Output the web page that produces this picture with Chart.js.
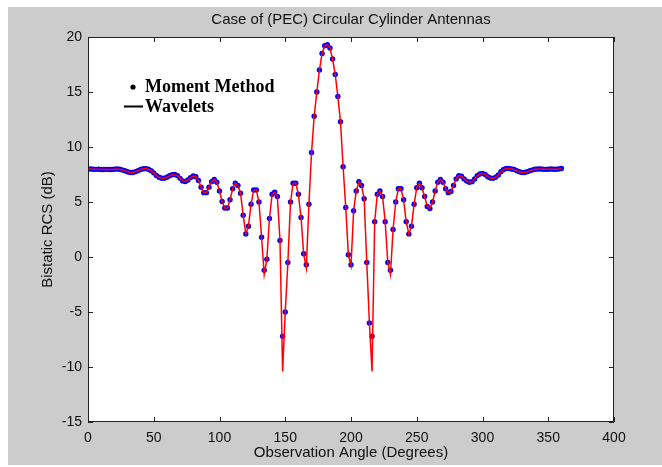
<!DOCTYPE html>
<html>
<head>
<meta charset="utf-8">
<title>Case of (PEC) Circular Cylinder Antennas</title>
<script src="https://cdn.jsdelivr.net/npm/chart.js"></script>
<style>
  html, body { margin: 0; padding: 0; background: #ffffff; }
  canvas { display: block; }
</style>
</head>
<body>
<canvas id="grafico" width="662" height="467"></canvas>
<script>
// observation angle (degrees)
var angulos = [
  0, 2, 4, 6, 8, 10, 12, 14, 16, 18,
  20, 22, 24, 26, 28, 30, 32, 34, 36, 38,
  40, 42, 44, 46, 48, 50, 52, 54, 56, 58,
  60, 62, 64, 66, 68, 70, 72, 74, 76, 78,
  80, 82, 84, 86, 88, 90, 92, 94, 96, 98,
  100, 102, 104, 106, 108, 110, 112, 114, 116, 118,
  120, 122, 124, 126, 128, 130, 132, 134, 136, 138,
  140, 142, 144, 146, 148, 150, 152, 154, 156, 158,
  160, 162, 164, 166, 168, 170, 172, 174, 176, 178,
  180, 182, 184, 186, 188, 190, 192, 194, 196, 198,
  200, 202, 204, 206, 208, 210, 212, 214, 216, 218,
  220, 222, 224, 226, 228, 230, 232, 234, 236, 238,
  240, 242, 244, 246, 248, 250, 252, 254, 256, 258,
  260, 262, 264, 266, 268, 270, 272, 274, 276, 278,
  280, 282, 284, 286, 288, 290, 292, 294, 296, 298,
  300, 302, 304, 306, 308, 310, 312, 314, 316, 318,
  320, 322, 324, 326, 328, 330, 332, 334, 336, 338,
  340, 342, 344, 346, 348, 350, 352, 354, 356, 358,
  360
];

// Wavelets (red line), bistatic RCS in dB
var wavelets = [
  8.00, 8.00, 7.98, 7.97, 7.98, 7.96, 7.95, 7.97, 7.96, 7.95,
  7.98, 8.00, 7.98, 7.92, 7.85, 7.75, 7.68, 7.68, 7.75, 7.85,
  7.95, 8.02, 8.03, 7.98, 7.85, 7.65, 7.42, 7.25, 7.16, 7.16,
  7.25, 7.38, 7.48, 7.50, 7.40, 7.15, 6.92, 6.86, 7.00, 7.22,
  7.36, 7.30, 6.95, 6.35, 5.85, 5.85, 6.35, 6.85, 7.06, 6.80,
  6.00, 5.05, 4.45, 4.45, 5.20, 6.20, 6.70, 6.50, 5.80, 3.80,
  2.10, 2.80, 4.80, 6.10, 6.10, 5.00, 1.80, -1.60, -0.20, 3.50,
  5.70, 5.90, 5.50, 1.50, -10.40, -5.00, -0.50, 5.00, 6.70, 6.70,
  5.70, 3.60, 0.30, -1.00, 4.80, 9.50, 12.80, 15.00, 17.00, 18.50,
  19.20, 19.30, 19.00, 18.00, 16.60, 14.60, 12.30, 8.20, 4.50, 0.20,
  -0.80, 4.20, 6.00, 6.85, 6.50, 5.30, -0.50, -6.00, -10.40, 3.20,
  5.70, 6.00, 5.50, 3.20, -0.50, -1.60, 2.50, 5.00, 6.20, 6.20,
  5.20, 3.20, 2.10, 2.80, 4.80, 6.30, 6.70, 6.30, 5.50, 4.60,
  4.40, 5.00, 6.00, 6.80, 7.06, 6.80, 6.20, 5.85, 5.95, 6.50,
  7.10, 7.40, 7.35, 7.10, 6.90, 6.80, 6.85, 7.10, 7.40, 7.55,
  7.60, 7.50, 7.30, 7.18, 7.15, 7.25, 7.45, 7.75, 7.95, 8.05,
  8.05, 8.00, 7.95, 7.85, 7.75, 7.68, 7.68, 7.75, 7.85, 7.92,
  7.98, 8.00, 8.00, 7.98, 7.97, 7.98, 8.00, 7.98, 7.98, 8.00,
  8.05
];

// Moment Method (blue dots)
var momento = [
  8.00, 8.00, 7.98, 7.97, 7.98, 7.96, 7.95, 7.97, 7.96, 7.95,
  7.98, 8.00, 7.98, 7.92, 7.85, 7.75, 7.68, 7.68, 7.75, 7.85,
  7.95, 8.02, 8.03, 7.98, 7.85, 7.65, 7.42, 7.25, 7.16, 7.16,
  7.25, 7.38, 7.48, 7.50, 7.40, 7.15, 6.92, 6.86, 7.00, 7.22,
  7.36, 7.30, 6.95, 6.35, 5.85, 5.85, 6.35, 6.85, 7.06, 6.80,
  6.00, 5.05, 4.45, 4.45, 5.20, 6.20, 6.70, 6.50, 5.80, 3.80,
  2.10, 2.80, 4.80, 6.10, 6.10, 5.00, 1.80, -1.20, -0.20, 3.50,
  5.70, 5.90, 5.50, 1.50, -7.20, -5.00, -0.50, 5.00, 6.70, 6.70,
  5.70, 3.60, 0.30, -0.70, 4.80, 9.50, 12.80, 15.00, 17.00, 18.50,
  19.20, 19.30, 19.00, 18.00, 16.60, 14.60, 12.30, 8.20, 4.50, 0.20,
  -0.70, 4.20, 6.00, 6.85, 6.50, 5.30, -0.50, -6.00, -7.20, 3.20,
  5.70, 6.00, 5.50, 3.20, -0.50, -1.20, 2.50, 5.00, 6.20, 6.20,
  5.20, 3.20, 2.10, 2.80, 4.80, 6.30, 6.70, 6.30, 5.50, 4.60,
  4.40, 5.00, 6.00, 6.80, 7.06, 6.80, 6.20, 5.85, 5.95, 6.50,
  7.10, 7.40, 7.35, 7.10, 6.90, 6.80, 6.85, 7.10, 7.40, 7.55,
  7.60, 7.50, 7.30, 7.18, 7.15, 7.25, 7.45, 7.75, 7.95, 8.05,
  8.05, 8.00, 7.95, 7.85, 7.75, 7.68, 7.68, 7.75, 7.85, 7.92,
  7.98, 8.00, 8.00, 7.98, 7.97, 7.98, 8.00, 7.98, 7.98, 8.00,
  8.05
];

var ticksX = [0, 50, 100, 150, 200, 250, 300, 350, 400];
var ticksY = [-15, -10, -5, 0, 5, 10, 15, 20];

var titulo = 'Case of (PEC) Circular Cylinder Antennas';
var tituloX = 'Observation Angle (Degrees)';
var tituloY = 'Bistatic RCS (dB)';
var leyenda = ['Moment Method', 'Wavelets'];

window.onload = inicializar;

function inicializar() {
  var puntosLinea = [];
  var puntosMomento = [];
  for (var i = 0; i < angulos.length; i++) {
    puntosLinea.push({ x: angulos[i], y: wavelets[i] });
    puntosMomento.push({ x: angulos[i], y: momento[i] });
  }

  var fuente = '"Liberation Sans", Arial, sans-serif';

  var estiloMatlab = {
    id: 'estiloMatlab',
    beforeDraw: function (chart) {
      var ctx = chart.ctx;
      var a = chart.chartArea;
      ctx.save();
      ctx.fillStyle = '#ffffff';
      ctx.fillRect(0, 0, chart.width, chart.height);
      ctx.fillStyle = '#cccccc';
      ctx.fillRect(8, 7, chart.width - 8, chart.height - 9);
      ctx.fillStyle = '#ffffff';
      ctx.fillRect(a.left, a.top, a.right - a.left, a.bottom - a.top);
      ctx.restore();
    },
    afterDraw: function (chart) {
      var ctx = chart.ctx;
      var a = chart.chartArea;
      var sx = chart.scales.x;
      var sy = chart.scales.y;
      ctx.save();

      // caja y marcas hacia dentro
      ctx.strokeStyle = '#222222';
      ctx.lineWidth = 1;
      ctx.strokeRect(a.left + 0.5, a.top + 0.5, a.right - a.left - 1, a.bottom - a.top - 1);
      ctx.beginPath();
      ticksX.forEach(function (v) {
        var px = Math.round(sx.getPixelForValue(v)) + 0.5;
        ctx.moveTo(px, a.bottom);
        ctx.lineTo(px, a.bottom - 5);
        ctx.moveTo(px, a.top);
        ctx.lineTo(px, a.top + 5);
      });
      ticksY.forEach(function (v) {
        var py = Math.round(sy.getPixelForValue(v)) + 0.5;
        ctx.moveTo(a.left, py);
        ctx.lineTo(a.left + 5, py);
        ctx.moveTo(a.right, py);
        ctx.lineTo(a.right - 5, py);
      });
      ctx.stroke();

      // titulos
      var cx = (a.left + a.right) / 2;
      var cy = (a.top + a.bottom) / 2;
      ctx.fillStyle = '#111111';
      ctx.font = '15px ' + fuente;
      ctx.textAlign = 'center';
      ctx.textBaseline = 'middle';
      ctx.fillText(titulo, cx, 20);
      ctx.fillText(tituloX, cx, 453);
      ctx.translate(48, cy);
      ctx.rotate(-Math.PI / 2);
      ctx.fillText(tituloY, 0, 0);
      ctx.setTransform(1, 0, 0, 1, 0, 0);

      // leyenda
      ctx.fillStyle = '#000000';
      ctx.strokeStyle = '#000000';
      ctx.font = 'bold 18px "Liberation Serif", "Times New Roman", serif';
      ctx.textAlign = 'left';
      ctx.textBaseline = 'alphabetic';
      ctx.beginPath();
      ctx.arc(133, 87, 2.6, 0, Math.PI * 2);
      ctx.fill();
      ctx.fillText(leyenda[0], 145, 92);
      ctx.lineWidth = 2;
      ctx.beginPath();
      ctx.moveTo(124, 106.5);
      ctx.lineTo(143, 106.5);
      ctx.stroke();
      ctx.fillText(leyenda[1], 145, 112);
      ctx.restore();
    }
  };

  new Chart(document.getElementById('grafico'), {
    type: 'scatter',
    data: {
      datasets: [
        {
          label: leyenda[1],
          data: puntosLinea,
          showLine: true,
          borderColor: '#ff0000',
          borderWidth: 1.5,
          pointRadius: 0,
          tension: 0
        },
        {
          label: leyenda[0],
          data: puntosMomento,
          showLine: false,
          pointRadius: 2.7,
          pointBorderWidth: 0,
          backgroundColor: '#0000ff',
          borderColor: '#0000ff'
        }
      ]
    },
    options: {
      responsive: false,
      animation: false,
      devicePixelRatio: 1,
      layout: { padding: { left: 0, right: 48, top: 37, bottom: 0 } },
      plugins: {
        legend: { display: false },
        tooltip: { enabled: false },
        title: { display: false }
      },
      scales: {
        x: {
          type: 'linear',
          min: 0,
          max: 400,
          afterFit: function (scale) { scale.height = 45; },
          afterBuildTicks: function (scale) {
            scale.ticks = ticksX.map(function (v) { return { value: v }; });
          },
          grid: { display: false, drawTicks: false },
          border: { display: false },
          ticks: { color: '#111111', font: { size: 14, family: fuente }, padding: 8, maxRotation: 0 }
        },
        y: {
          type: 'linear',
          min: -15,
          max: 20,
          afterFit: function (scale) { scale.width = 88; },
          afterBuildTicks: function (scale) {
            scale.ticks = ticksY.map(function (v) { return { value: v }; });
          },
          grid: { display: false, drawTicks: false },
          border: { display: false },
          ticks: { color: '#111111', font: { size: 14, family: fuente }, padding: 6 }
        }
      }
    },
    plugins: [estiloMatlab]
  });
}
</script>
</body>
</html>
